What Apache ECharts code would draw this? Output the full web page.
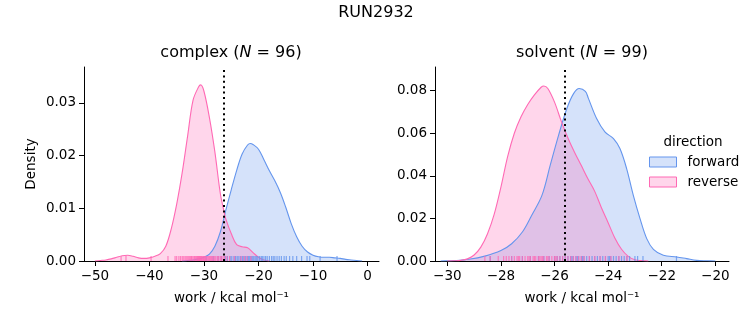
<!DOCTYPE html>
<html><head><meta charset="utf-8">
<script src="https://cdn.jsdelivr.net/npm/echarts@6/dist/echarts.min.js"></script>
<style>html,body{margin:0;padding:0;background:#fff}#c{width:753px;height:325px}</style>
</head><body><div id="c"></div>
<script>
// ---------------- data ----------------
const suptitle = 'RUN2932';
const panelNames = ['complex', 'solvent'];
const panelN = [96, 99];
const directions = ['forward', 'reverse'];
const legendTitle = 'direction';
const xAxisName = 'work / kcal mol\u207B\u00B9';
const yAxisName = 'Density';

// complex KDE
const complexForwardX = [-34,-33,-32,-31,-30,-29,-28,-27,-26,-25,-24,-23,-22,-21.5,-21,-20,-19,-18,-17,-16,-15,-14,-13,-12,-11,-10,-9,-8,-7,-6,-5,-4,-3,-2,-1];
const complexForwardY = [0,0.0001,0.0002,0.0004,0.0007,0.0013,0.0028,0.0055,0.0096,0.0135,0.0172,0.0203,0.0220,0.0223,0.0221,0.0212,0.0192,0.0171,0.0152,0.0130,0.0102,0.0071,0.0046,0.0028,0.0017,0.0011,0.0008,0.0007,0.0007,0.0006,0.0005,0.0003,0.0002,0.0001,0];
const complexReverseX = [-50,-49,-48,-47,-46,-45,-44,-43,-42,-41,-40,-39,-38,-37,-36,-35,-34,-33,-32,-31,-30.6,-30,-29,-28,-27,-26.3,-26,-25,-24,-23,-22,-21,-20,-19,-18];
const complexReverseY = [0,0.0001,0.0002,0.0004,0.0007,0.0010,0.0011,0.0009,0.0006,0.0005,0.0006,0.0009,0.0014,0.0028,0.0061,0.0108,0.0167,0.0237,0.0305,0.0330,0.0334,0.0322,0.0272,0.0207,0.0128,0.0093,0.0080,0.0052,0.0031,0.0027,0.0025,0.0016,0.0007,0.0002,0];
// solvent KDE
const solventForwardX = [-30.25,-30.0,-29.7,-29.2,-28.6,-28.0,-27.6,-27.2,-26.85,-26.47,-26.16,-25.85,-25.54,-25.29,-25.08,-24.85,-24.74,-24.43,-24.12,-23.8,-23.56,-23.31,-23.06,-22.81,-22.56,-22.31,-21.94,-21.44,-21.07,-20.7,-20.3,-20.0];
const solventForwardY = [0,0.0001,0.0002,0.0008,0.0023,0.0049,0.0081,0.0136,0.0215,0.0308,0.0450,0.0590,0.0716,0.0786,0.0810,0.0797,0.0765,0.0669,0.0606,0.0575,0.0528,0.0434,0.0308,0.0199,0.0105,0.0055,0.0027,0.0019,0.0011,0.0003,0.0001,0];
const solventReverseX = [-30.0,-29.75,-29.5,-29.25,-29.0,-28.75,-28.5,-28.25,-28.0,-27.75,-27.5,-27.25,-27.0,-26.75,-26.5,-26.4,-26.25,-26.0,-25.75,-25.5,-25.25,-25.0,-24.75,-24.5,-24.25,-24.0,-23.75,-23.5,-23.25,-23.0,-22.75,-22.5];
const solventReverseY = [0,0.0001,0.0003,0.0010,0.0028,0.0065,0.0128,0.0220,0.0347,0.0490,0.0600,0.0677,0.0735,0.0780,0.0816,0.0822,0.0810,0.0746,0.0657,0.0578,0.0510,0.0448,0.0385,0.0327,0.0250,0.0180,0.0108,0.0055,0.0022,0.0006,0.0002,0];

// rug observations (estimated)
const complexForwardRug = [-29.6,-28.3,-27.4,-26.8,-26.1,-25.7,-25.2,-24.9,-24.5,-24.2,-23.9,-23.6,-23.3,-23.0,-22.8,-22.5,-22.3,-22.0,-21.8,-21.6,-21.4,-21.2,-21.0,-20.8,-20.5,-20.3,-20.1,-19.8,-19.5,-19.3,-19.0,-18.7,-18.4,-18.0,-17.6,-17.3,-17.0,-16.6,-16.2,-15.8,-15.3,-14.9,-14.3,-13.7,-13.0,-12.1,-11.1,-10.6,-8.7,-5.6];
const complexReverseRug = [-45.2,-44.3,-39.7,-36.6,-35.3,-35.0,-34.6,-34.3,-34.0,-33.8,-33.5,-33.3,-33.1,-32.9,-32.7,-32.5,-32.3,-32.2,-32.0,-31.8,-31.7,-31.5,-31.4,-31.2,-31.1,-31.0,-30.9,-30.8,-30.7,-30.6,-30.5,-30.4,-30.3,-30.1,-30.0,-29.9,-29.7,-29.6,-29.4,-29.2,-29.0,-28.8,-28.6,-28.4,-28.2,-28.0,-27.8,-27.5,-27.3,-27.0,-26.8,-26.5,-26.2,-25.8,-25.3,-24.4,-23.2,-22.6,-22.1,-21.4];
const solventForwardRug = [-28.4,-27.6,-27.2,-26.9,-26.6,-26.4,-26.2,-26.0,-25.9,-25.8,-25.7,-25.6,-25.5,-25.4,-25.35,-25.3,-25.2,-25.15,-25.1,-25.0,-24.95,-24.9,-24.8,-24.7,-24.6,-24.5,-24.4,-24.3,-24.2,-24.1,-24.0,-23.95,-23.9,-23.8,-23.7,-23.6,-23.5,-23.4,-23.3,-23.2,-23.0,-22.9,-22.7,-21.45];
const solventReverseRug = [-28.6,-28.4,-28.1,-27.9,-27.8,-27.7,-27.6,-27.5,-27.4,-27.35,-27.3,-27.2,-27.1,-27.0,-26.95,-26.9,-26.8,-26.75,-26.7,-26.6,-26.55,-26.5,-26.45,-26.4,-26.3,-26.25,-26.2,-26.1,-26.0,-25.95,-25.9,-25.8,-25.7,-25.6,-25.5,-25.4,-25.3,-25.2,-25.1,-25.0,-24.9,-24.7,-24.5,-24.3,-24.1,-23.9,-23.6,-23.3];

// dotted reference line values
const complexRefLine = -26.29;
const solventRefLine = -25.61;

// ticks
const complexXTicks = [-50,-40,-30,-20,-10,0];
const complexYTicks = [0,0.01,0.02,0.03];
const solventXTicks = [-30,-28,-26,-24,-22,-20];
const solventYTicks = [0,0.02,0.04,0.06,0.08];

// ---------------- chart ----------------
const FONT = 'DejaVu Sans';
const TICK_FS = 13.5;
const lineColor = { forward: '#6495ED', reverse: '#FF69B4' };
const fillRgba = { forward: 'rgba(100,149,237,0.27)', reverse: 'rgba(255,105,180,0.27)' };

const zip = (xs, ys) => xs.map((x, i) => [x, ys[i]]);
const fmtX = v => (v < 0 ? '\u2212' + Math.abs(v) : String(v));

const panels = [
  { kde: { forward: zip(complexForwardX, complexForwardY), reverse: zip(complexReverseX, complexReverseY) },
    rug: { forward: complexForwardRug, reverse: complexReverseRug },
    ref: complexRefLine, xTicks: complexXTicks, yTicks: complexYTicks,
    xMin: -52, xMax: 2.1, yMax: 0.0368 },
  { kde: { forward: zip(solventForwardX, solventForwardY), reverse: zip(solventReverseX, solventReverseY) },
    rug: { forward: solventForwardRug, reverse: solventReverseRug },
    ref: solventRefLine, xTicks: solventXTicks, yTicks: solventYTicks,
    xMin: -30.46, xMax: -19.49, yMax: 0.0911 }
];

const grids = [
  { left: 84, right: 374, top: 67, bottom: 64 },
  { left: 435, right: 24, top: 67, bottom: 64 }
];

const axisLine = { show: true, onZero: false, lineStyle: { color: '#000', width: 1 } };
const xAxes = panels.map((p, i) => ({
  type: 'value', gridIndex: i, min: p.xMin, max: p.xMax,
  splitLine: { show: false }, axisLine,
  axisTick: { show: true, customValues: p.xTicks, length: 5, lineStyle: { color: '#000', width: 1 } },
  axisLabel: { customValues: p.xTicks, margin: 8, color: '#000', fontFamily: FONT, fontSize: TICK_FS, formatter: fmtX },
  name: xAxisName, nameLocation: 'middle', nameGap: 30,
  nameTextStyle: { color: '#000', fontFamily: FONT, fontSize: TICK_FS }
}));
const yAxes = panels.map((p, i) => ({
  type: 'value', gridIndex: i, min: 0, max: p.yMax,
  splitLine: { show: false }, axisLine,
  axisTick: { show: true, customValues: p.yTicks, length: 5, lineStyle: { color: '#000', width: 1 } },
  axisLabel: { customValues: p.yTicks, margin: 8, color: '#000', fontFamily: FONT, fontSize: TICK_FS, formatter: v => v.toFixed(2) },
  name: i === 0 ? yAxisName : '', nameLocation: 'middle', nameGap: 46,
  nameTextStyle: { color: '#000', fontFamily: FONT, fontSize: TICK_FS }
}));

const series = [];
panels.forEach((p, i) => {
  directions.forEach(d => {
    series.push({
      type: 'line', name: d, xAxisIndex: i, yAxisIndex: i,
      data: p.kde[d], smooth: 0.35, symbol: 'none', silent: true,
      lineStyle: { color: lineColor[d], width: 1.1 },
      itemStyle: { color: lineColor[d] },
      areaStyle: { color: fillRgba[d], opacity: 1 }
    });
  });
  directions.forEach(d => {
    series.push({
      type: 'scatter', name: d + ' rug', xAxisIndex: i, yAxisIndex: i,
      data: p.rug[d].map(v => [v, 0]), symbol: 'rect', symbolSize: [1.2, 5], symbolOffset: [0, -2.5],
      itemStyle: { color: lineColor[d], opacity: 0.8 }, silent: true, clip: false, z: 3
    });
  });
  series.push({
    type: 'line', name: 'ref' + i, xAxisIndex: i, yAxisIndex: i, data: [], silent: true, z: 5,
    markLine: {
      silent: true, symbol: 'none', label: { show: false }, animation: false,
      lineStyle: { color: '#000', type: [2, 3.4], width: 2 },
      data: [{ xAxis: p.ref }]
    }
  });
});

const titleRich = { i: { fontStyle: 'italic', fontFamily: FONT, fontSize: 16, color: '#000' } };
const option = {
  animation: false,
  backgroundColor: '#fff',
  title: [
    { text: suptitle, left: 371, top: 0, textAlign: 'center', textStyle: { fontFamily: FONT, fontSize: 16, fontWeight: 'normal', color: '#000' } },
    { text: panelNames[0] + ' ({i|N} = ' + panelN[0] + ')', left: 226, top: 40, textAlign: 'center',
      textStyle: { fontFamily: FONT, fontSize: 16, fontWeight: 'normal', color: '#000', rich: titleRich } },
    { text: panelNames[1] + ' ({i|N} = ' + panelN[1] + ')', left: 577, top: 40, textAlign: 'center',
      textStyle: { fontFamily: FONT, fontSize: 16, fontWeight: 'normal', color: '#000', rich: titleRich } },
    { text: legendTitle, left: 688, top: 130, textAlign: 'center', textStyle: { fontFamily: FONT, fontSize: TICK_FS, fontWeight: 'normal', color: '#000' } }
  ],
  legend: {
    orient: 'vertical', left: 644, top: 150, itemWidth: 27, itemHeight: 10, itemGap: 6,
    selectedMode: false,
    textStyle: { fontFamily: FONT, fontSize: TICK_FS, color: '#000', padding: [0, 0, 0, 6] },
    data: directions.map(d => ({ name: d, icon: 'rect', itemStyle: { color: fillRgba[d], borderColor: lineColor[d], borderWidth: 1 } }))
  },
  grid: grids,
  xAxis: xAxes,
  yAxis: yAxes,
  series
};
const chart = echarts.init(document.getElementById('c'), null, { renderer: 'canvas' });
chart.setOption(option);
</script></body></html>
